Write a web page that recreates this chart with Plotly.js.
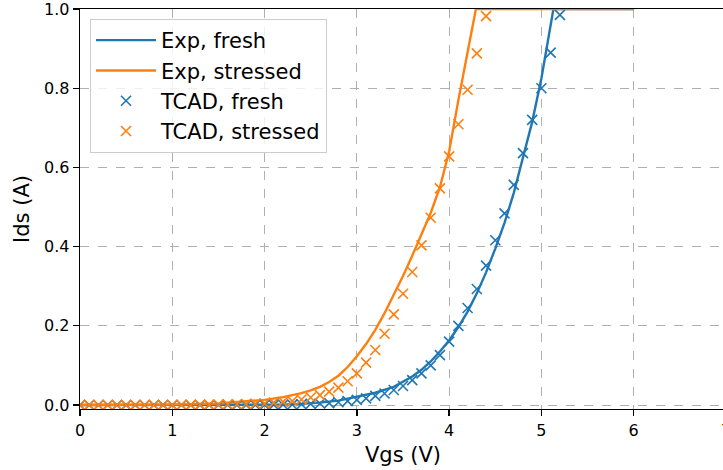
<!DOCTYPE html>
<html>
<head>
<meta charset="utf-8">
<script src="https://cdn.plot.ly/plotly-3.0.1.min.js"></script>
<style>
html, body { margin: 0; padding: 0; overflow: hidden; background: #fff; }
#chart { width: 726px; height: 470px; }
</style>
</head>
<body>
<div id="chart"></div>
<script>
// Experimental curves
const vgsExpFresh = [0, 0.5, 1.0, 1.5, 2.0, 2.2, 2.4, 2.6, 2.8, 3.0, 3.2, 3.4, 3.5, 3.6, 3.7, 3.8, 3.9, 4.0, 4.1, 4.2, 4.3, 4.4, 4.5, 4.6, 4.7, 4.8, 4.9, 5.0, 5.1, 5.13, 5.5, 6.0];
const idsExpFresh = [0, 0, 0, 0.0002, 0.0006, 0.001, 0.003, 0.006, 0.011, 0.021, 0.031, 0.046, 0.058, 0.072, 0.089, 0.11, 0.135, 0.163, 0.197, 0.236, 0.282, 0.335, 0.395, 0.46, 0.535, 0.622, 0.715, 0.825, 0.955, 1.0, 1.0, 1.0];

const vgsExpStressed = [0, 0.5, 1.0, 1.5, 1.8, 2.0, 2.2, 2.4, 2.5, 2.6, 2.7, 2.8, 2.9, 3.0, 3.1, 3.2, 3.3, 3.4, 3.5, 3.6, 3.7, 3.8, 3.9, 4.0, 4.1, 4.2, 4.29, 5.0, 6.0];
const idsExpStressed = [0, 0.0005, 0.001, 0.004, 0.009, 0.013, 0.02, 0.03, 0.037, 0.046, 0.058, 0.074, 0.096, 0.123, 0.154, 0.19, 0.232, 0.277, 0.326, 0.377, 0.43, 0.485, 0.55, 0.64, 0.77, 0.89, 1.0, 1.0, 1.0];

// TCAD simulations
const vgsTcadFresh = [0.0,0.1,0.2,0.3,0.4,0.5,0.6,0.7,0.8,0.9,1.0,1.1,1.2,1.3,1.4,1.5,1.6,1.7,1.8,1.9,2.0,2.1,2.2,2.3,2.4,2.5,2.6,2.7,2.8,2.9,3.0,3.1,3.2,3.3,3.4,3.5,3.6,3.7,3.8,3.9,4.0,4.1,4.2,4.3,4.4,4.5,4.6,4.7,4.8,4.9,5.0,5.1,5.2];
const idsTcadFresh = [0,0,0,0,0,0,0,0,0,0,0,0,0,0,0,0,0,0,0,0,
  0.0003,0.0005,0.0008,0.0012,0.002,0.003,0.004,0.005,0.007,0.010,
  0.013,0.017,0.023,0.029,0.038,0.048,0.063,0.080,0.100,0.126,
  0.160,0.200,0.245,0.293,0.352,0.416,0.484,0.556,0.636,0.720,
  0.800,0.890,0.985];

const vgsTcadStressed = [0.0,0.1,0.2,0.3,0.4,0.5,0.6,0.7,0.8,0.9,1.0,1.1,1.2,1.3,1.4,1.5,1.6,1.7,1.8,1.9,2.0,2.1,2.2,2.3,2.4,2.5,2.6,2.7,2.8,2.9,3.0,3.1,3.2,3.3,3.4,3.5,3.6,3.7,3.8,3.9,4.0,4.1,4.2,4.3,4.4];
const idsTcadStressed = [0,0,0,0,0,0,0,0,0,0,0,
  0.0003,0.0005,0.0007,0.001,0.0013,0.0017,0.002,0.0025,0.003,
  0.004,0.006,0.008,0.010,0.014,0.019,0.025,0.034,0.044,0.060,
  0.080,0.107,0.139,0.180,0.229,0.281,0.336,0.403,0.473,0.547,
  0.628,0.709,0.796,0.888,0.982];

const seriesNames = ['Exp, fresh', 'Exp, stressed', 'TCAD, fresh', 'TCAD, stressed'];
const xTickVals = [0, 1, 2, 3, 4, 5, 6, 7];
const yTickVals = [0.0, 0.2, 0.4, 0.6, 0.8, 1.0];

const blue = '#1f77b4', orange = '#ff7f0e';
const font = 'DejaVu Sans, sans-serif';

const traces = [
  {x: vgsExpFresh, y: idsExpFresh, name: seriesNames[0], legendgroup: 'a', mode: 'lines', line: {color: blue, width: 2.4}},
  {x: vgsExpStressed, y: idsExpStressed, name: seriesNames[1], legendgroup: 'b', mode: 'lines', line: {color: orange, width: 2.4}},
  {x: vgsTcadFresh, y: idsTcadFresh, name: seriesNames[2], legendgroup: 'c', mode: 'markers',
   marker: {symbol: 'x-thin', size: 10, color: blue, line: {color: blue, width: 1.6}}},
  {x: vgsTcadStressed, y: idsTcadStressed, name: seriesNames[3], legendgroup: 'd', mode: 'markers',
   marker: {symbol: 'x-thin', size: 10, color: orange, line: {color: orange, width: 1.6}}}
];

const axisCommon = {
  showline: true, linecolor: '#000', linewidth: 1.3, mirror: true,
  ticks: 'outside', ticklen: 6, tickwidth: 1.3, tickcolor: '#000',
  showgrid: true, gridcolor: '#b0b0b0', gridwidth: 1, griddash: 'dash',
  zeroline: false, ticklabeloverflow: 'allow',
  tickfont: {family: font, size: 16, color: '#000'}
};

const layout = {
  width: 726, height: 470,
  margin: {l: 80, r: 0, t: 9, b: 61},
  paper_bgcolor: '#fff', plot_bgcolor: '#fff',
  font: {family: font, color: '#000'},
  xaxis: Object.assign({}, axisCommon, {
    range: [0, 7], tickvals: xTickVals, ticktext: xTickVals.map(String),
    title: {text: 'Vgs (V)', font: {family: font, size: 21, color: '#000'}, standoff: 8}
  }),
  yaxis: Object.assign({}, axisCommon, {
    range: [-0.01, 1.0], tickvals: yTickVals, ticktext: yTickVals.map(v => v.toFixed(1)),
    title: {text: 'Ids (A)', font: {family: font, size: 21, color: '#000'}, standoff: 8}
  }),
  showlegend: true,
  legend: {
    x: 0.0155, y: 0.975, xanchor: 'left', yanchor: 'top',
    bgcolor: 'rgba(255,255,255,0.8)', bordercolor: '#cccccc', borderwidth: 1,
    font: {family: font, size: 21, color: '#000'},
    itemwidth: 60, traceorder: 'grouped', tracegroupgap: 0
  }
};

Plotly.newPlot('chart', traces, layout, {displayModeBar: false, staticPlot: true});
</script>
</body>
</html>
